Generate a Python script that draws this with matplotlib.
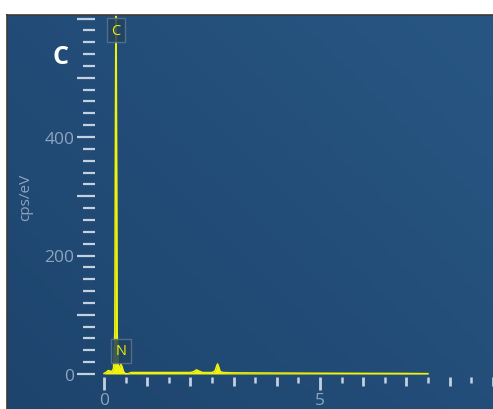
import numpy as np
import matplotlib
matplotlib.use("Agg")
import matplotlib.pyplot as plt
from matplotlib.colors import LinearSegmentedColormap
from matplotlib.ticker import FixedLocator, FuncFormatter

# EDS spectrum samples: energy (keV) and intensity (cps/eV)
energy_kev = [0.00, 0.05, 0.10, 0.14, 0.18, 0.22, 0.25, 0.265, 0.277, 0.29, 0.305,
              0.33, 0.36, 0.39, 0.42, 0.45, 0.50, 0.56, 0.62, 1.00, 1.50, 2.00,
              2.08, 2.14, 2.20, 2.28, 2.50, 2.57, 2.61, 2.63, 2.65, 2.69, 2.76,
              3.00, 4.00, 5.00, 6.00, 7.00, 7.50]
cps_per_ev = [1.0, 3.0, 6.0, 5.0, 4.0, 9.0, 70.0, 420.0, 660.0, 420.0, 70.0,
              14.0, 11.0, 17.0, 12.0, 4.0, 0.5, 0.5, 2.5, 2.5, 2.5, 2.5,
              4.0, 7.0, 5.0, 2.5, 2.5, 5.0, 14.0, 17.0, 13.0, 4.0, 2.5,
              2.0, 1.6, 1.3, 1.1, 0.9, 0.6]

peak_labels = ["C", "N"]
peak_energy = [0.277, 0.392]
label_height = [580, 39]

x_tick_labels = {0: "0", 5: "5"}
y_tick_labels = {0: "0", 200: "200", 400: "400"}

BG_LO = "#1d446d"
BG_HI = "#285683"
TICK_COLOR = "#c3d0e0"
LABEL_COLOR = "#8ea4bd"
TRACE = "#eef20c"
SANS = ["Open Sans", "DejaVu Sans"]

W, H = 493, 410
fig = plt.figure(figsize=(W / 100, H / 100), dpi=100, facecolor="white")

# Panel background with a soft diagonal gradient
px0, py_top = 7, 16
bg = fig.add_axes([px0 / W, 0, 1 - px0 / W, (H - py_top) / H])
bg.set_axis_off()
cmap = LinearSegmentedColormap.from_list("panel", [BG_LO, BG_HI])
gx, gy = np.meshgrid(np.linspace(0, 1, 200), np.linspace(0, 1, 200))
grad = 0.55 * gx + 0.45 * gy
bg.imshow(grad, cmap=cmap, origin="lower", extent=[0, 1, 0, 1], aspect="auto")
bg.set_xlim(0, 1)
bg.set_ylim(0, 1)
fig.add_artist(plt.Line2D([px0 / W, 1], [(H - py_top) / H] * 2, color="#3a3a3a", lw=1.2,
                          transform=fig.transFigure))
fig.add_artist(plt.Line2D([px0 / W] * 2, [0, (H - py_top) / H], color="#3a3a3a", lw=1.2,
                          transform=fig.transFigure))

# Plot area
ax_l, ax_r, ax_b, ax_t = 95, 493, 378, 16
ax = fig.add_axes([ax_l / W, (H - ax_b) / H, (ax_r - ax_l) / W, (ax_b - ax_t) / H])
ax.patch.set_alpha(0)
x0_px, kev_px = 104, 43.2
y0_px, cps_px = 375, 0.5925
ax.set_xlim((ax_l - x0_px) / kev_px, (ax_r - x0_px) / kev_px)
ax.set_ylim((y0_px - ax_b) / cps_px, (y0_px - ax_t) / cps_px)
for s in ax.spines.values():
    s.set_visible(False)

ax.fill_between(energy_kev, cps_per_ev, 0, color=TRACE, lw=0, zorder=2)
ax.plot(energy_kev, cps_per_ev, color=TRACE, lw=1.1, zorder=3)

# Y axis ticks
ax.yaxis.set_major_locator(FixedLocator(np.arange(0, 601, 100)))
ax.yaxis.set_minor_locator(FixedLocator(np.arange(0, 601, 20)))
ax.yaxis.set_major_formatter(FuncFormatter(lambda v, p: y_tick_labels.get(int(round(v)), "")))
ax.tick_params(axis="y", which="major", direction="out", length=13, width=1.6,
               color=TICK_COLOR, labelcolor=LABEL_COLOR, labelsize=12.5, pad=2)
ax.tick_params(axis="y", which="minor", direction="out", length=8.5, width=1.6,
               color=TICK_COLOR)

# X axis ticks: long at 0/5, medium at each keV
ax.xaxis.set_major_locator(FixedLocator([0, 5]))
ax.xaxis.set_minor_locator(FixedLocator([1, 2, 3, 4, 6, 7, 8, 9]))
ax.xaxis.set_major_formatter(FuncFormatter(lambda v, p: x_tick_labels.get(int(round(v)), "")))
ax.tick_params(axis="x", which="major", direction="out", length=9, width=2.0,
               color=TICK_COLOR, labelcolor=LABEL_COLOR, labelsize=12.5, pad=2)
ax.tick_params(axis="x", which="minor", direction="out", length=6.5, width=2.0,
               color=TICK_COLOR)

# Short ticks at the half-keV marks
sec = ax.secondary_xaxis("bottom")
sec.set_xticks(np.arange(0.5, 9.0, 1.0))
sec.set_xticklabels([])
sec.tick_params(axis="x", direction="out", length=4.5, width=1.8, color=TICK_COLOR)
for s in sec.spines.values():
    s.set_visible(False)

for t in ax.get_xticklabels() + ax.get_yticklabels():
    t.set_fontfamily(SANS)

ax.set_ylabel("cps/eV", color=LABEL_COLOR, fontsize=11, family=SANS)
ax.yaxis.set_label_coords((33 - ax_l) / (ax_r - ax_l), (ax_b - 197) / (ax_b - ax_t))

# Element markers
for lab, e, h in zip(peak_labels, peak_energy, label_height):
    ax.text(e, h, lab, color=TRACE, fontsize=10.5, ha="center", va="center",
            family=SANS, zorder=5,
            bbox=dict(boxstyle="square,pad=0.3", fc="#22425f", ec="#5a7592",
                      lw=1.0, alpha=0.85))

fig.text(60 / W, 1 - 57 / H, "C", color="white", fontsize=18, fontweight="bold",
         ha="center", va="center", family=SANS)

fig.savefig("out.png", dpi=100, facecolor="white")
